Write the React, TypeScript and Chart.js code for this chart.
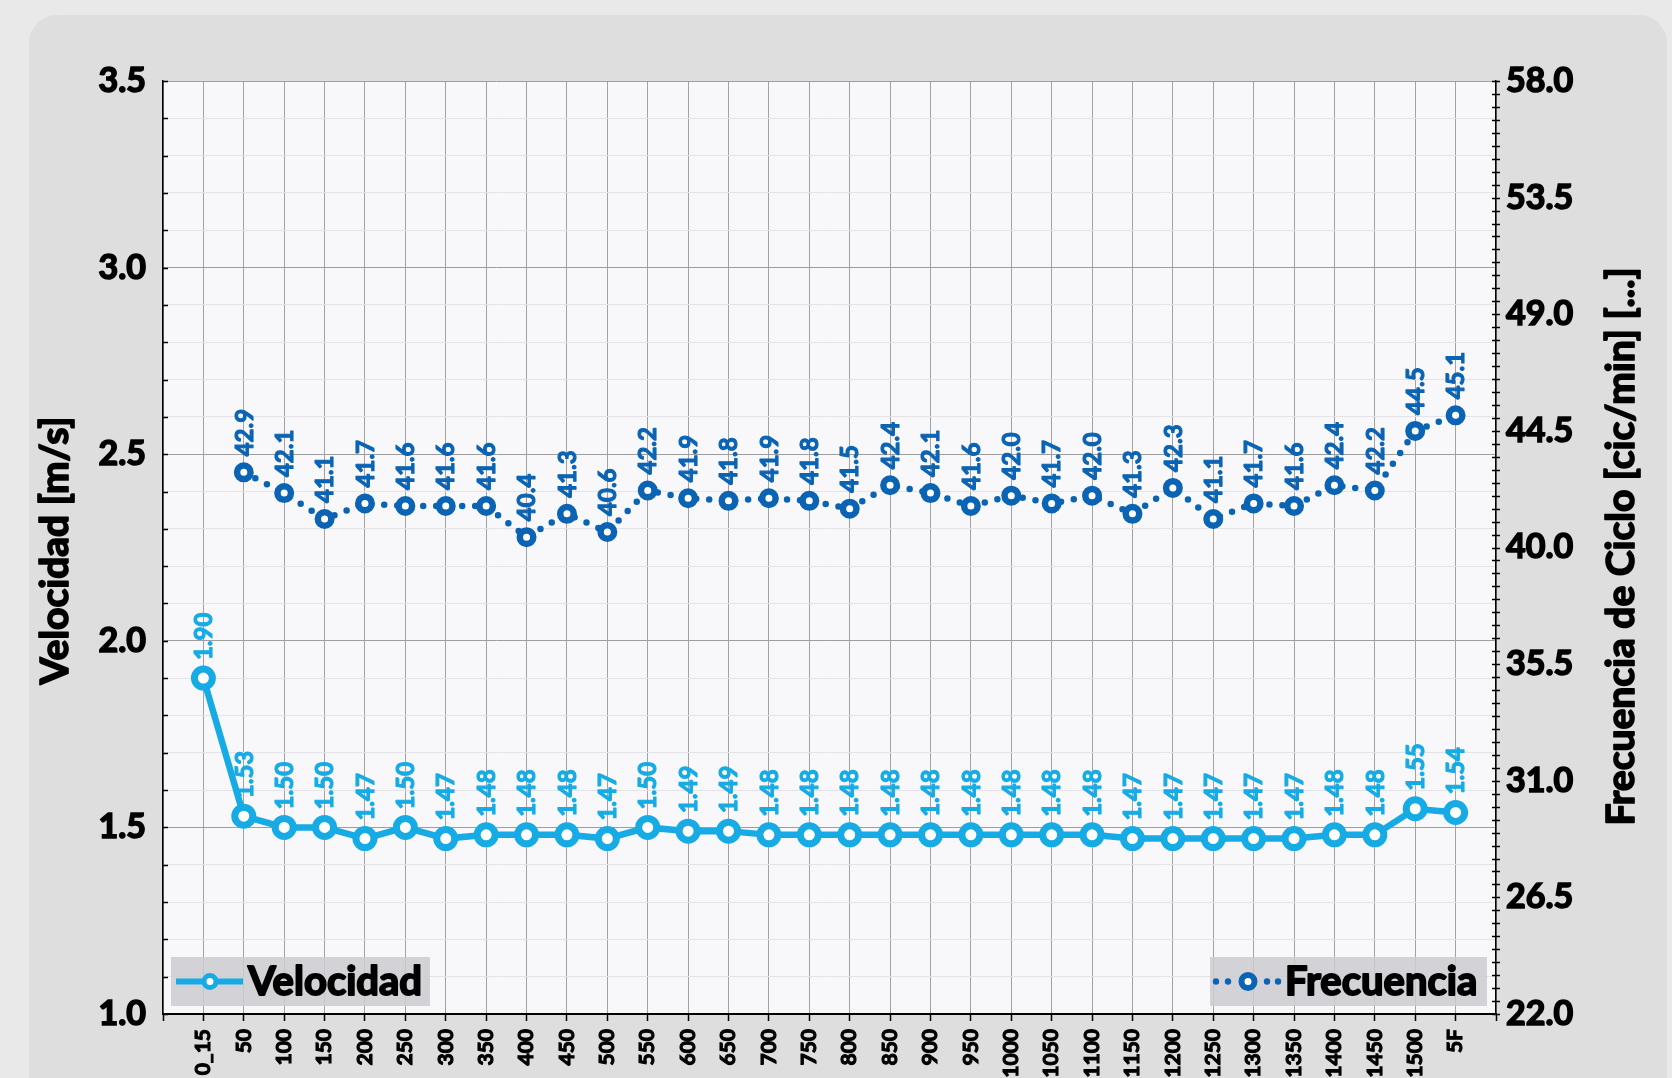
import React, { useEffect, useRef } from 'react';
import { Chart, registerables } from 'chart.js';

Chart.register(...registerables);

const FONT = 'Lato, "Open Sans", sans-serif';
const W = 'bold';

const categories = [
  '0_15', '50', '100', '150', '200', '250', '300', '350', '400', '450', '500',
  '550', '600', '650', '700', '750', '800', '850', '900', '950', '1000',
  '1050', '1100', '1150', '1200', '1250', '1300', '1350', '1400', '1450', '1500', '5F',
];

const velocidad = [
  1.90, 1.53, 1.50, 1.50, 1.47, 1.50, 1.47, 1.48, 1.48, 1.48, 1.47,
  1.50, 1.49, 1.49, 1.48, 1.48, 1.48, 1.48, 1.48, 1.48, 1.48,
  1.48, 1.48, 1.47, 1.47, 1.47, 1.47, 1.47, 1.48, 1.48, 1.55, 1.54,
];

const frecuencia = [
  null, 42.9, 42.1, 41.1, 41.7, 41.6, 41.6, 41.6, 40.4, 41.3, 40.6,
  42.2, 41.9, 41.8, 41.9, 41.8, 41.5, 42.4, 42.1, 41.6, 42.0,
  41.7, 42.0, 41.3, 42.3, 41.1, 41.7, 41.6, 42.4, 42.2, 44.5, 45.1,
];

const velMin = 1.0;
const velMax = 3.5;
const velMajorStep = 0.5;
const velMinorStep = 0.1;
const freMin = 22.0;
const freMax = 58.0;
const freMajorStep = 4.5;
const freMinorStep = 0.5;

const leftTitle = 'Velocidad [m/s]';
const rightTitle = 'Frecuencia de Ciclo [cic/min] [...]';

const VEL_COLOR = '#16abe4';
const FRE_COLOR = '#0a63b3';

const isMultiple = (v: number, step: number) => {
  const r = v / step;
  return Math.abs(r - Math.round(r)) < 1e-6;
};

function heavyText(ctx: CanvasRenderingContext2D, text: string, x: number, y: number, color: string, stroke: number) {
  ctx.fillStyle = color;
  ctx.strokeStyle = color;
  ctx.lineJoin = 'round';
  ctx.lineWidth = stroke;
  ctx.strokeText(text, x, y);
  ctx.fillText(text, x, y);
}

const bgPlugin = {
  id: 'plotBg',
  beforeDraw(chart: any) {
    const { ctx, chartArea } = chart;
    ctx.save();
    ctx.fillStyle = '#f8f8fa';
    ctx.fillRect(chartArea.left, chartArea.top, chartArea.right - chartArea.left, chartArea.bottom - chartArea.top);
    ctx.restore();
  },
};

const axisExtrasPlugin = {
  id: 'axisExtras',
  afterDraw(chart: any) {
    const { ctx, chartArea, scales } = chart;
    ctx.save();
    ctx.strokeStyle = '#000';
    ctx.lineWidth = 1.5;
    const y = scales.y;
    for (let v = velMin; v <= velMax + 1e-9; v += velMinorStep) {
      const py = Math.round(y.getPixelForValue(v)) + 0.5;
      ctx.beginPath();
      ctx.moveTo(chartArea.left, py);
      ctx.lineTo(chartArea.left + 5, py);
      ctx.stroke();
    }
    const y1 = scales.y1;
    for (let v = freMin; v <= freMax + 1e-9; v += freMinorStep) {
      const py = Math.round(y1.getPixelForValue(v)) + 0.5;
      ctx.beginPath();
      ctx.moveTo(chartArea.right - 4, py);
      ctx.lineTo(chartArea.right + 4, py);
      ctx.stroke();
    }
    const midY = (chartArea.top + chartArea.bottom) / 2;
    ctx.font = `${W} 39px ${FONT}`;
    ctx.textAlign = 'center';
    ctx.textBaseline = 'middle';
    // left axis title
    ctx.save();
    ctx.translate(55, midY + 3);
    ctx.rotate(-Math.PI / 2);
    heavyText(ctx, leftTitle, 0, 0, '#000', 1.7);
    ctx.restore();
    // right axis title
    ctx.save();
    ctx.translate(1621, midY - 1);
    ctx.rotate(-Math.PI / 2);
    heavyText(ctx, rightTitle, 0, 0, '#000', 1.7);
    ctx.restore();
    ctx.restore();
  },
};

const labelCfg = [
  { color: VEL_COLOR, offset: 18, dec: 2 },
  { color: FRE_COLOR, offset: 16, dec: 1 },
];

const dataLabelPlugin = {
  id: 'dataLabels',
  afterDatasetsDraw(chart: any) {
    const ctx = chart.ctx;
    chart.data.datasets.forEach((ds: any, i: number) => {
      const meta = chart.getDatasetMeta(i);
      const cfg = labelCfg[i];
      meta.data.forEach((pt: any, j: number) => {
        const v = ds.data[j];
        if (v == null) return;
        ctx.save();
        ctx.translate(pt.x, pt.y - cfg.offset);
        ctx.rotate(-Math.PI / 2);
        ctx.font = `${W} 24px ${FONT}`;
        ctx.textAlign = 'left';
        ctx.textBaseline = 'middle';
        heavyText(ctx, v.toFixed(cfg.dec), 0, 1, cfg.color, 1.1);
        ctx.restore();
      });
    });
  },
};

const legendPlugin = {
  id: 'customLegend',
  afterDraw(chart: any) {
    const { ctx, chartArea } = chart;
    const boxH = 49;
    const boxBottom = chartArea.bottom - 8;
    const cy = boxBottom - boxH / 2;
    ctx.save();
    // Velocidad
    const vx = chartArea.left + 8;
    ctx.fillStyle = 'rgba(205,205,208,0.85)';
    ctx.fillRect(vx, boxBottom - boxH, 259, boxH);
    ctx.strokeStyle = VEL_COLOR;
    ctx.lineWidth = 6;
    ctx.beginPath();
    ctx.moveTo(vx + 5, cy);
    ctx.lineTo(vx + 72, cy);
    ctx.stroke();
    ctx.beginPath();
    ctx.arc(vx + 39, cy, 6, 0, Math.PI * 2);
    ctx.fillStyle = '#fff';
    ctx.fill();
    ctx.lineWidth = 5;
    ctx.stroke();
    ctx.font = `${W} 40px ${FONT}`;
    ctx.textAlign = 'left';
    ctx.textBaseline = 'middle';
    heavyText(ctx, 'Velocidad', vx + 77, cy + 1, '#000', 1.9);

    // Frecuencia
    const fw = 277;
    const fx = chartArea.right - 9 - fw;
    ctx.fillStyle = 'rgba(205,205,208,0.85)';
    ctx.fillRect(fx, boxBottom - boxH, fw, boxH);
    ctx.fillStyle = FRE_COLOR;
    [6, 18, 57, 68].forEach((dx) => {
      ctx.beginPath();
      ctx.arc(fx + dx, cy, 3.2, 0, Math.PI * 2);
      ctx.fill();
    });
    ctx.beginPath();
    ctx.arc(fx + 38, cy, 6.5, 0, Math.PI * 2);
    ctx.fillStyle = '#fff';
    ctx.fill();
    ctx.strokeStyle = FRE_COLOR;
    ctx.lineWidth = 6;
    ctx.stroke();
    ctx.font = `${W} 40px ${FONT}`;
    heavyText(ctx, 'Frecuencia', fx + 75, cy + 1, '#000', 1.9);
    ctx.restore();
  },
};

export default function App() {
  const canvasRef = useRef<HTMLCanvasElement | null>(null);

  useEffect(() => {
    document.body.style.margin = '0';
    document.body.style.background = '#e9e9e9';
    const canvas = canvasRef.current;
    if (!canvas) return;
    const labels = ['', ...categories, ''];
    const chart = new Chart(canvas, {
      type: 'line',
      data: {
        labels,
        datasets: [
          {
            label: 'Velocidad',
            data: [null, ...velocidad, null],
            yAxisID: 'y',
            borderColor: VEL_COLOR,
            backgroundColor: VEL_COLOR,
            borderWidth: 6.5,
            pointRadius: 9,
            pointBorderWidth: 7,
            pointBackgroundColor: '#ffffff',
            pointBorderColor: VEL_COLOR,
            tension: 0,
          },
          {
            label: 'Frecuencia',
            data: [null, ...frecuencia, null],
            yAxisID: 'y1',
            borderColor: FRE_COLOR,
            backgroundColor: FRE_COLOR,
            borderWidth: 6.5,
            borderDash: [0, 13],
            borderCapStyle: 'round',
            pointRadius: 6.75,
            pointBorderWidth: 6.5,
            pointBackgroundColor: '#ffffff',
            pointBorderColor: FRE_COLOR,
            tension: 0,
          },
        ],
      } as any,
      options: {
        responsive: false,
        animation: false,
        devicePixelRatio: 1,
        layout: { padding: { top: 81, left: 0, right: 0, bottom: 0 } },
        plugins: {
          legend: { display: false },
          tooltip: { enabled: false },
        },
        scales: {
          x: {
            type: 'category',
            offset: false,
            grid: {
              color: '#a2a2a2',
              lineWidth: 1,
              drawTicks: true,
              tickLength: 7,
              tickColor: '#000',
              tickWidth: 1.5,
            },
            border: { color: '#000', width: 2 },
            ticks: {
              autoSkip: false,
              maxRotation: 90,
              minRotation: 90,
              padding: 8,
              color: '#000',
              textStrokeColor: '#000',
              textStrokeWidth: 1.1,
              font: { family: FONT, size: 21, weight: W },
            },
            afterFit(scale: any) {
              scale.height = 64;
            },
          },
          y: {
            type: 'linear',
            position: 'left',
            min: velMin,
            max: velMax,
            ticks: {
              stepSize: velMinorStep,
              autoSkip: false,
              padding: 17,
              color: '#000',
              textStrokeColor: '#000',
              textStrokeWidth: 1.6,
              font: { family: FONT, size: 34, weight: W },
              callback: (v: any) => (isMultiple(Number(v), velMajorStep) ? Number(v).toFixed(1) : ''),
            },
            grid: {
              drawTicks: false,
              color: (c: any) => (c.tick && isMultiple(c.tick.value, velMajorStep) ? '#9e9e9e' : '#e4e4e8'),
              lineWidth: 1,
            },
            border: { color: '#000', width: 1.5 },
            title: { display: false },
            afterFit(scale: any) {
              scale.width = 163;
            },
          },
          y1: {
            type: 'linear',
            position: 'right',
            min: freMin,
            max: freMax,
            ticks: {
              stepSize: freMajorStep,
              autoSkip: false,
              padding: 10,
              color: '#000',
              textStrokeColor: '#000',
              textStrokeWidth: 1.6,
              font: { family: FONT, size: 34, weight: W },
              callback: (v: any) => Number(v).toFixed(1),
            },
            grid: { drawOnChartArea: false, drawTicks: false },
            border: { color: '#000', width: 1.5 },
            title: { display: false },
            afterFit(scale: any) {
              scale.width = 176;
            },
          },
        },
      } as any,
      plugins: [bgPlugin, axisExtrasPlugin, dataLabelPlugin, legendPlugin],
    });
    return () => chart.destroy();
  }, []);

  return (
    <div style={{ position: 'relative', width: 1672, height: 1078, overflow: 'hidden', background: '#e9e9e9' }}>
      <div
        style={{
          position: 'absolute',
          left: 29,
          top: 15,
          width: 1638,
          height: 1120,
          borderRadius: 28,
          background: '#dedede',
        }}
      />
      <canvas
        ref={canvasRef}
        width={1672}
        height={1078}
        style={{ position: 'absolute', left: 0, top: 0, width: 1672, height: 1078 }}
      />
    </div>
  );
}
